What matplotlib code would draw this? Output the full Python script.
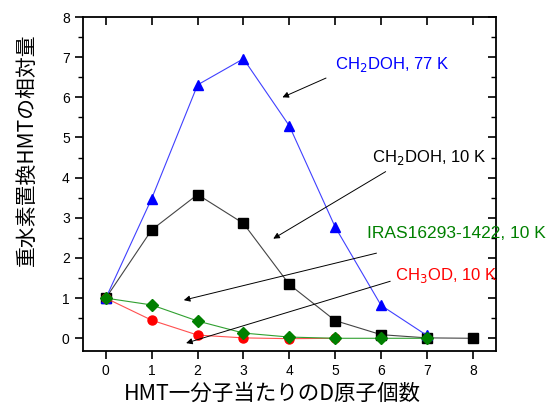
import matplotlib
matplotlib.use('Agg')
import matplotlib.pyplot as plt
from matplotlib.ticker import MultipleLocator

plt.rcParams['font.family'] = ['Liberation Sans', 'Noto Sans CJK JP', 'DejaVu Sans']

# data
x_77k = [0, 1, 2, 3, 4, 5, 6, 7]
ch2doh_77k = [1.0, 3.48, 6.31, 6.96, 5.29, 2.77, 0.82, 0.07]

x_10k = [0, 1, 2, 3, 4, 5, 6, 7, 8]
ch2doh_10k = [1.0, 2.70, 3.58, 2.86, 1.34, 0.44, 0.09, 0.01, 0.0]

x_iras = [0, 1, 2, 3, 4, 5, 6, 7]
iras = [1.0, 0.83, 0.43, 0.13, 0.03, 0.0, 0.0, 0.0]

x_ch3od = [0, 1, 2, 3, 4, 5]
ch3od = [1.0, 0.45, 0.08, 0.01, -0.01, 0.0]

labels = ['CH$_2$DOH, 77 K', 'CH$_2$DOH, 10 K', 'IRAS16293-1422, 10 K', 'CH$_3$OD, 10 K']

fig = plt.figure(figsize=(5.49, 4.05), dpi=100)
ax = fig.add_axes([0.151, 0.133, 0.752, 0.825])

ax.plot(x_10k, ch2doh_10k, '-', color='#444444', lw=0.8, marker='s', ms=6.5, mfc='black', mec='black')
ax.plot(x_77k, ch2doh_77k, '-', color='#4040ff', lw=0.8, marker='^', ms=7.5, mfc='blue', mec='blue')
ax.plot(x_ch3od, ch3od, '-', color='#ff5050', lw=0.8, marker='o', ms=6.5, mfc='red', mec='red')
ax.plot(x_iras, iras, '-', color='#30a030', lw=0.8, marker='D', ms=6, mfc='green', mec='green')

ax.set_xlim(-0.5, 8.5)
ax.set_ylim(-0.32, 8)
ax.xaxis.set_major_locator(MultipleLocator(1))
ax.yaxis.set_major_locator(MultipleLocator(1))
ax.yaxis.set_minor_locator(MultipleLocator(0.5))
ax.tick_params(axis='both', which='major', direction='out', length=6, width=1.2, labelsize=10)
ax.tick_params(axis='y', which='minor', direction='out', length=3.5, width=1)
ax.tick_params(top=True, right=True, which='both')
for s in ax.spines.values():
    s.set_linewidth(1.3)
# mirrored ticks point into the box on top/right
for t in ax.xaxis.get_major_ticks():
    t.tick2line.set_marker(3)
for t in ax.yaxis.get_major_ticks() + ax.yaxis.get_minor_ticks():
    t.tick2line.set_marker(0)

fig.text(0.496, 0.028, 'HMT一分子当たりのD原子個数', fontsize=15.5,
         family=['Noto Sans CJK JP'], ha='center', va='center')
fig.text(0.049, 0.63, '重水素置換HMTの相対量', fontsize=15, rotation=90,
         family=['Noto Sans CJK JP'], ha='center', va='center')

arrow = dict(arrowstyle='-|>', color='black', lw=0.7, mutation_scale=9, shrinkA=0, shrinkB=0)
ax.annotate('', xy=(3.85, 6.0), xytext=(4.8, 6.48), arrowprops=arrow)
ax.text(5.0, 6.7, labels[0], color='blue', fontsize=12)
ax.annotate('', xy=(3.65, 2.48), xytext=(6.1, 4.15), arrowprops=arrow)
ax.text(5.8, 4.4, labels[1], color='black', fontsize=12)
ax.annotate('', xy=(1.7, 0.95), xytext=(5.9, 2.12), arrowprops=arrow)
ax.text(5.7, 2.5, labels[2], color='green', fontsize=12.5, clip_on=False)
ax.annotate('', xy=(1.75, -0.12), xytext=(6.2, 1.42), arrowprops=arrow)
ax.text(6.3, 1.45, labels[3], color='red', fontsize=12, clip_on=False)

fig.savefig('out.png', dpi=100)
